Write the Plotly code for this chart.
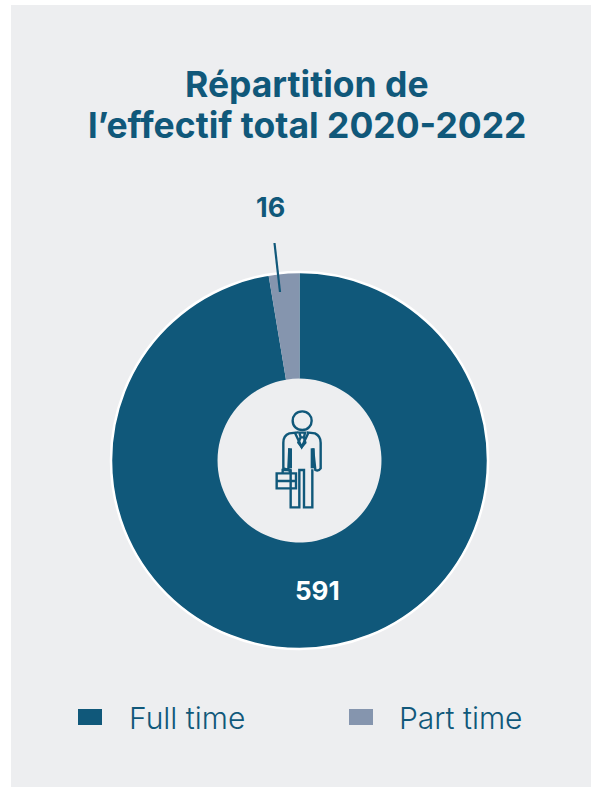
import plotly.graph_objects as go

W, H = 591, 787
categories = ["Full time", "Part time"]
values = [591, 16]
title_lines = ["Répartition de", "l’effectif total 2020-2022"]
DARK = "#10587A"
GREY = "#8595AE"
PANEL = "#EDEEF0"
FONT = "Inter"


def px(x, y):
    return x / W, 1 - y / H


def path(points_cmds):
    """Icon path given in zoomed-crop coordinates (origin 260,400, factor 3)."""
    out = []
    for tok in points_cmds.split():
        if tok[0].isalpha():
            cmd = tok[0]
            rest = tok[1:]
            if rest:
                x, y = map(float, rest.split(","))
                a, b = px(260 + x / 3, 400 + y / 3)
                out.append(f"{cmd}{a:.5f},{b:.5f}")
            else:
                out.append(cmd)
        else:
            x, y = map(float, tok.split(","))
            a, b = px(260 + x / 3, 400 + y / 3)
            out.append(f"{a:.5f},{b:.5f}")
    return " ".join(out)


fig = go.Figure(
    go.Pie(
        labels=categories,
        values=values,
        sort=False,
        direction="clockwise",
        rotation=0,
        hole=0.436,
        textinfo="none",
        marker=dict(colors=[DARK, GREY], line=dict(width=0)),
        domain=dict(x=[111.5 / W, 487.5 / W], y=[1 - 648.5 / H, 1 - 272.5 / H]),
        showlegend=False,
    )
)

shapes = []
# background panel
x0, y1 = px(11, 5)
x1, y0 = px(591, 787)
shapes.append(dict(type="rect", xref="paper", yref="paper", x0=x0, x1=x1, y0=y0, y1=y1,
                   fillcolor=PANEL, line_width=0, layer="below"))
# white outer ring
a, b = px(111, 272)
c, d = px(488, 649)
shapes.append(dict(type="circle", xref="paper", yref="paper", x0=a, y0=d, x1=c, y1=b,
                   line=dict(color="white", width=2.5), fillcolor="rgba(0,0,0,0)"))
# leader line
a, b = px(274.5, 243)
c, d = px(280, 292)
shapes.append(dict(type="line", xref="paper", yref="paper", x0=a, y0=b, x1=c, y1=d,
                   line=dict(color=DARK, width=2.2)))
# legend swatches
for sx, col in [(78, DARK), (349, GREY)]:
    a, b = px(sx, 709)
    c, d = px(sx + 24, 725)
    shapes.append(dict(type="rect", xref="paper", yref="paper", x0=a, y0=b, x1=c, y1=d,
                       fillcolor=col, line_width=0))
# icon
icon_paths = [
    "M127,34 C108,34 98,48 98,62 C98,78 110,90 127,90 C144,90 155,76 155,62 C155,48 144,34 127,34 Z",
    "M115,97 L88,100 Q70,106 70,128 L70,205 L85,210 L88,145",
    "M140,97 L165,100 Q182,108 182,128 L182,205 Q176,214 166,210 L159,145",
    "M92,208 L92,322 L118,322 L118,210 L132,210 L132,322 L157,322 L157,208",
    "M104,97 L125,141 L146,97",
    "M118,98 L135,98 L132,112 L122,112 Z M122,112 L115,128 L125,141 L136,128 L132,112",
    "M50,220 L108,220 L108,265 L50,265 Z M50,243 L108,243 M68,220 L68,210 L90,210 L90,220",
]
for p in icon_paths:
    shapes.append(dict(type="path", xref="paper", yref="paper", path=path(p),
                       line=dict(color=DARK, width=2.4), fillcolor="rgba(0,0,0,0)"))
for p in ["M90,145 L90,205", "M158,145 L158,205"]:
    shapes.append(dict(type="path", xref="paper", yref="paper", path=path(p),
                       line=dict(color=DARK, width=4)))

ann = []


def text(x, y, s, size, color=DARK, anchor="center", weight=400):
    a, b = px(x, y)
    ann.append(dict(xref="paper", yref="paper", x=a, y=b, text=s,
                    showarrow=False, xanchor=anchor, yanchor="middle",
                    font=dict(family=FONT, size=size, color=color, weight=weight)))


text(306.5, 85, title_lines[0], 35.5, weight=700)
text(307, 126, title_lines[1], 35.5, weight=700)
text(270.5, 207, str(values[1]), 27, weight=700)
text(318, 590, str(values[0]), 26, color="white", weight=700)
text(127, 718, categories[0], 30, anchor="left", weight=300)
text(397, 718, categories[1], 30, anchor="left", weight=300)

fig.update_layout(width=W, height=H, margin=dict(l=0, r=0, t=0, b=0), paper_bgcolor="white",
                  shapes=shapes, annotations=ann)
fig.write_html("out.html", config=dict(displayModeBar=False),
               post_script="document.body.style.margin='0';")
